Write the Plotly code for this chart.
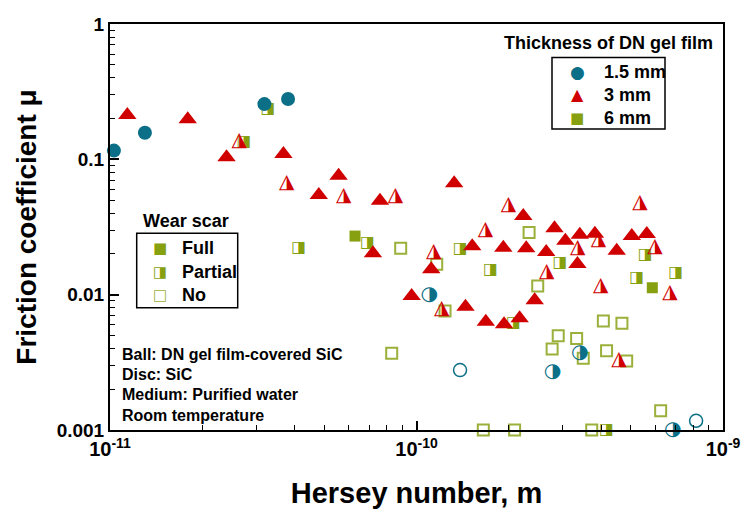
import plotly.graph_objects as go

# ---------------- data (Hersey number [m], friction coefficient) ----------------
c_full_x = [1.03e-11, 1.30e-11, 3.19e-11, 3.81e-11]
c_full_y = [0.116, 0.157, 0.256, 0.279]
c_part_x = [1.10e-10, 2.78e-10, 3.41e-10, 6.85e-10]
c_part_y = [0.0100, 0.00269, 0.00371, 0.00100]
c_no_x = [1.387e-10, 8.17e-10]
c_no_y = [0.00277, 0.00117]

t_full_x = [1.139e-11, 1.793e-11, 2.40e-11, 3.68e-11, 5.57e-11, 4.80e-11, 7.60e-11,
            1.327e-10, 7.21e-11, 9.64e-11, 1.117e-10, 1.445e-10, 1.52e-10, 1.683e-10,
            1.92e-10, 1.93e-10, 2.17e-10, 2.23e-10, 2.28e-10, 2.43e-10, 2.65e-10,
            2.82e-10, 3.06e-10, 3.35e-10, 3.41e-10, 3.82e-10, 4.50e-10, 5.04e-10, 5.64e-10]
t_full_y = [0.213, 0.198, 0.1035, 0.1094, 0.0757, 0.0545, 0.0494,
            0.0665, 0.0202, 0.00977, 0.01538, 0.00815, 0.0228, 0.00631,
            0.0222, 0.00605, 0.00669, 0.0381, 0.0220, 0.00908, 0.02066,
            0.0310, 0.02506, 0.01686, 0.0277, 0.0282, 0.0211, 0.0271, 0.0281]
t_part_x = [2.64e-11, 3.77e-11, 5.79e-11, 8.54e-11, 1.138e-10, 1.208e-10, 1.68e-10,
            1.994e-10, 2.66e-10, 3.36e-10, 3.92e-10, 3.99e-10, 4.58e-10, 5.36e-10,
            6.00e-10, 6.71e-10]
t_part_y = [0.1366, 0.0665, 0.0539, 0.0539, 0.0205, 0.0079, 0.0301,
            0.0462, 0.01459, 0.0222, 0.0252, 0.01164, 0.00329, 0.0476,
            0.0226, 0.01037]

s_full_x = [6.30e-11, 5.88e-10]
s_full_y = [0.0271, 0.01125]
s_part_x = [3.28e-11, 2.74e-11, 4.13e-11, 6.93e-11, 1.389e-10, 1.744e-10, 2.075e-10,
            2.94e-10, 5.23e-10, 5.58e-10, 7.01e-10, 4.17e-10]
s_part_y = [0.2367, 0.1336, 0.0220, 0.0241, 0.0217, 0.01521, 0.00614,
            0.01706, 0.01333, 0.01963, 0.01438, 0.00100]
s_no_x = [8.88e-11, 1.164e-10, 1.239e-10, 8.30e-11, 2.33e-10, 2.486e-10, 2.90e-10,
          3.33e-10, 2.77e-10, 3.50e-10, 4.07e-10, 4.68e-10, 4.17e-10, 4.85e-10,
          6.26e-10, 1.652e-10, 2.09e-10, 3.73e-10]
s_no_y = [0.0220, 0.01679, 0.00757, 0.00369, 0.0288, 0.01159, 0.00497,
          0.00474, 0.00397, 0.00339, 0.00639, 0.00614, 0.00385, 0.00324,
          0.00139, 0.00100, 0.00100, 0.00100]

x_tick_vals = [1e-11, 1e-10, 1e-9]
x_tick_text = ["10<sup>-11</sup>", "10<sup>-10</sup>", "10<sup>-9</sup>"]
y_tick_vals = [0.001, 0.01, 0.1, 1]
y_tick_text = ["0.001", "0.01", "0.1", "1"]

thickness_labels = ["1.5 mm", "3 mm", "6 mm"]
wear_labels = ["Full", "Partial", "No"]
conditions = ["Ball: DN gel film-covered SiC", "Disc: SiC", "Medium: Purified water", "Room temperature"]

TEAL = "#0B6F87"
RED = "#D00000"
GREEN = "#86A010"
GREEN_O = "#9AB03A"
FONT = "Liberation Sans"

fig = go.Figure()

def mk(x, y, symbol, color, size, lw=0, lc=None):
    fig.add_trace(go.Scatter(x=x, y=y, mode="markers", showlegend=False, cliponaxis=False,
                             marker=dict(symbol=symbol, color=color, size=size,
                                         line=dict(width=lw, color=lc or color))))

def glyph(x, y, ch, color, size):
    fig.add_trace(go.Scatter(x=x, y=y, mode="text", text=[ch] * len(x), showlegend=False,
                             cliponaxis=False, textposition="middle center",
                             textfont=dict(family="DejaVu Sans", size=size, color=color)))

# squares
mk(s_no_x, s_no_y, "square-open", GREEN_O, 11, 2)
glyph(s_part_x, s_part_y, "\u25E8", GREEN, 16)
mk(s_full_x, s_full_y, "square", GREEN, 11)
# triangles
mk(t_full_x, t_full_y, "triangle-up", RED, 16)
glyph(t_part_x, t_part_y, "\u25EE", RED, 20)
# circles
mk(c_full_x, c_full_y, "circle", TEAL, 14)
glyph(c_part_x, c_part_y, "\u25D1", TEAL, 20)
mk(c_no_x, c_no_y, "circle-open", TEAL, 13, 1.5)

# ---- layout helpers (pixel -> paper) ----
L, R, T, B = 110, 723, 24, 430
def px(x): return (x - L) / (R - L)
def py(y): return (B - y) / (B - T)

ann = []
shapes = []
# thickness legend
ann.append(dict(x=px(715), y=py(43), xref="paper", yref="paper", xanchor="right", yanchor="middle",
                text="<b>Thickness of DN gel film</b>", showarrow=False,
                font=dict(family=FONT, size=18, color="black")))
shapes.append(dict(type="rect", xref="paper", yref="paper", x0=px(552), x1=px(665), y0=py(57.5), y1=py(129),
                   line=dict(color="black", width=1.5)))
leg1 = [("\u25CF", TEAL, 71.7, 17), ("\u25B2", RED, 95, 16), ("\u25A0", GREEN, 118, 15)]
for (ch, col, yy, fs), lab in zip(leg1, thickness_labels):
    ann.append(dict(x=px(577), y=py(yy), xref="paper", yref="paper", xanchor="center", yanchor="middle",
                    text=ch, showarrow=False, font=dict(family="DejaVu Sans", size=fs, color=col)))
    ann.append(dict(x=px(602), y=py(yy), xref="paper", yref="paper", xanchor="left", yanchor="middle",
                    text="<b>%s</b>" % lab, showarrow=False, font=dict(family=FONT, size=18, color="black")))
# wear scar legend
ann.append(dict(x=px(186), y=py(221), xref="paper", yref="paper", xanchor="center", yanchor="middle",
                text="<b>Wear scar</b>", showarrow=False, font=dict(family=FONT, size=18, color="black")))
shapes.append(dict(type="rect", xref="paper", yref="paper", x0=px(136.7), x1=px(237.7), y0=py(233.3), y1=py(307.7),
                   line=dict(color="black", width=1.5)))
leg2 = [("\u25A0", GREEN, 248.3), ("\u25E8", GREEN, 271.7), ("\u25A1", GREEN_O, 295)]
for (ch, col, yy), lab in zip(leg2, wear_labels):
    ann.append(dict(x=px(159.5), y=py(yy), xref="paper", yref="paper", xanchor="center", yanchor="middle",
                    text=ch, showarrow=False, font=dict(family="DejaVu Sans", size=15, color=col)))
    ann.append(dict(x=px(180), y=py(yy), xref="paper", yref="paper", xanchor="left", yanchor="middle",
                    text="<b>%s</b>" % lab, showarrow=False, font=dict(family=FONT, size=18, color="black")))
# conditions
for yy, line in zip([354, 374.5, 394.5, 415], conditions):
    ann.append(dict(x=px(120), y=py(yy), xref="paper", yref="paper", xanchor="left", yanchor="middle",
                    text="<b>%s</b>" % line, showarrow=False, font=dict(family=FONT, size=16, color="black")))

def minor_vals(lo, hi):
    v = []
    for e in range(lo, hi):
        for k in range(2, 10):
            v.append(k * 10.0 ** e)
    return v

fig.update_layout(
    width=743, height=509, margin=dict(l=L, r=743 - R, t=T, b=509 - B),
    paper_bgcolor="white", plot_bgcolor="white",
    font=dict(family=FONT, color="black"),
    annotations=ann, shapes=shapes,
    xaxis=dict(type="log", range=[-11, -9], showgrid=False, zeroline=False, automargin=False,
               showline=True, linecolor="black", linewidth=2, mirror=True,
               ticks="inside", ticklen=9, tickwidth=1.5, tickcolor="black",
               tickvals=x_tick_vals, ticktext=x_tick_text,
               tickfont=dict(family=FONT, size=20, color="black", weight="bold"),
               minor=dict(ticks="inside", ticklen=5, tickwidth=1.2, tickcolor="black",
                          tickvals=minor_vals(-11, -9), showgrid=False),
               title=dict(text="<b>Hersey number, m</b>", standoff=24,
                          font=dict(family=FONT, size=29, color="black"))),
    yaxis=dict(type="log", range=[-3, 0], showgrid=False, zeroline=False, automargin=False,
               showline=True, linecolor="black", linewidth=2, mirror=True,
               ticks="inside", ticklen=9, tickwidth=1.5, tickcolor="black",
               tickvals=y_tick_vals, ticktext=y_tick_text,
               tickfont=dict(family=FONT, size=19, color="black", weight="bold"),
               minor=dict(ticks="inside", ticklen=5, tickwidth=1.2, tickcolor="black",
                          tickvals=minor_vals(-3, 0), showgrid=False),
               title=dict(text="<b>Friction coefficient \u03bc</b>", standoff=12,
                          font=dict(family=FONT, size=28, color="black"))),
)

fig.write_html("out.html", config={"displayModeBar": False},
               post_script="document.body.style.margin='0px';document.body.style.padding='0px';")
